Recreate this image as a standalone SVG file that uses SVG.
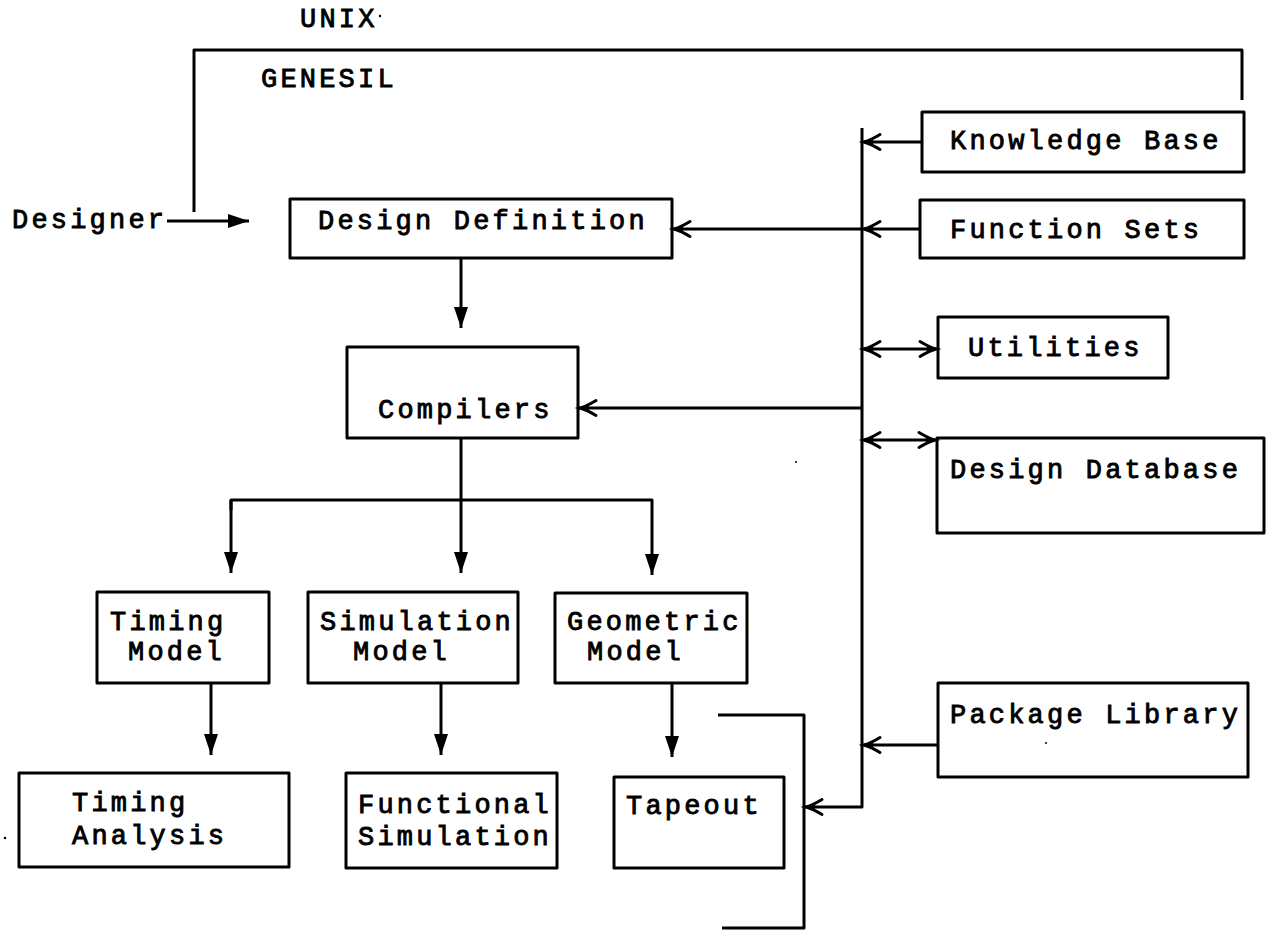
<svg xmlns="http://www.w3.org/2000/svg" width="1267" height="933" viewBox="0 0 1267 933">
<style>
  .bg { fill: #ffffff; }
  .box { fill: none; stroke: #000; stroke-width: 3; stroke-linejoin: round; }
  .ln { fill: none; stroke: #000; stroke-width: 3; stroke-linejoin: round; }
  .t { font-family: "Liberation Mono", "DejaVu Sans Mono", monospace; font-size: 27px; letter-spacing: 3.2px; fill: #000; stroke: #000; stroke-width: 0.9px; }
  .dot { fill: #000; }
</style>
<defs>
  <marker id="tri" markerUnits="userSpaceOnUse" markerWidth="30" markerHeight="30" refX="0" refY="0" orient="auto" overflow="visible" viewBox="-30 -15 30 30">
    <path d="M0,0 L-21,-7 L-21,7 Z" fill="#000"/>
  </marker>
  <marker id="barb" markerUnits="userSpaceOnUse" markerWidth="30" markerHeight="30" refX="0" refY="0" orient="auto-start-reverse" overflow="visible" viewBox="-30 -15 30 30">
    <path d="M-16,-7.5 Q-7,-2 0,0 Q-7,2 -16,7.5" fill="none" stroke="#000" stroke-width="3" stroke-linecap="round"/>
    <path d="M0,0 L-9,-2.5 L-9,2.5 Z" fill="#000"/>
  </marker>
</defs>
<rect class="bg" x="0" y="0" width="1267" height="933"/>

<g id="labels">
  <text class="t" x="300" y="27">UNIX</text>
  <text class="t" x="261" y="87">GENESIL</text>
  <text class="t" x="12" y="228">Designer</text>
</g>

<g id="connectors">
  <polyline class="ln" points="194,212 194,50 1242,50 1242,100"/>
  <line class="ln" x1="167" y1="221" x2="249" y2="221" marker-end="url(#tri)"/>
  <line class="ln" x1="461" y1="258" x2="461" y2="328" marker-end="url(#tri)"/>
  <line class="ln" x1="461" y1="438" x2="461" y2="573" marker-end="url(#tri)"/>
  <polyline class="ln" points="231,510 231,500 652,500 652,575" marker-end="url(#tri)"/>
  <line class="ln" x1="231" y1="500" x2="231" y2="573" marker-end="url(#tri)"/>
  <line class="ln" x1="211" y1="683" x2="211" y2="755" marker-end="url(#tri)"/>
  <line class="ln" x1="441" y1="683" x2="441" y2="755" marker-end="url(#tri)"/>
  <line class="ln" x1="672" y1="683" x2="672" y2="757" marker-end="url(#tri)"/>
  <polyline class="ln" points="862,128 862,807 806,807" marker-end="url(#barb)"/>
  <line class="ln" x1="922" y1="142" x2="864" y2="142" marker-end="url(#barb)"/>
  <line class="ln" x1="920" y1="229" x2="864" y2="229" marker-end="url(#barb)"/>
  <line class="ln" x1="862" y1="229" x2="674" y2="229" marker-end="url(#barb)"/>
  <line class="ln" x1="864" y1="349" x2="936" y2="349" marker-start="url(#barb)" marker-end="url(#barb)"/>
  <line class="ln" x1="862" y1="408" x2="580" y2="408" marker-end="url(#barb)"/>
  <line class="ln" x1="864" y1="440" x2="935" y2="440" marker-start="url(#barb)" marker-end="url(#barb)"/>
  <line class="ln" x1="938" y1="745" x2="864" y2="745" marker-end="url(#barb)"/>
  <polyline class="ln" points="718,715 804,715 804,928 722,928"/>
</g>

<g id="design-definition">
  <rect class="box" x="290" y="199" width="382" height="59"/>
  <text class="t" x="318" y="229">Design Definition</text>
</g>
<g id="knowledge-base">
  <rect class="box" x="922" y="112" width="322" height="60"/>
  <text class="t" x="950" y="149">Knowledge Base</text>
</g>
<g id="function-sets">
  <rect class="box" x="920" y="200" width="324" height="58"/>
  <text class="t" x="950" y="238">Function Sets</text>
</g>
<g id="utilities">
  <rect class="box" x="938" y="317" width="230" height="61"/>
  <text class="t" x="968" y="356">Utilities</text>
</g>
<g id="compilers">
  <rect class="box" x="347" y="347" width="231" height="91"/>
  <text class="t" x="378" y="418">Compilers</text>
</g>
<g id="design-database">
  <rect class="box" x="937" y="438" width="327" height="95"/>
  <text class="t" x="950" y="478">Design Database</text>
</g>
<g id="timing-model">
  <rect class="box" x="97" y="592" width="172" height="91"/>
  <text class="t" x="110" y="630">Timing</text>
  <text class="t" x="128" y="660">Model</text>
</g>
<g id="simulation-model">
  <rect class="box" x="308" y="592" width="210" height="91"/>
  <text class="t" x="320" y="630">Simulation</text>
  <text class="t" x="353" y="660">Model</text>
</g>
<g id="geometric-model">
  <rect class="box" x="555" y="593" width="192" height="90"/>
  <text class="t" x="567" y="630">Geometric</text>
  <text class="t" x="587" y="660">Model</text>
</g>
<g id="package-library">
  <rect class="box" x="938" y="683" width="310" height="94"/>
  <text class="t" x="950" y="723">Package Library</text>
</g>
<g id="timing-analysis">
  <rect class="box" x="19" y="773" width="270" height="94"/>
  <text class="t" x="72" y="811">Timing</text>
  <text class="t" x="72" y="844">Analysis</text>
</g>
<g id="functional-simulation">
  <rect class="box" x="346" y="773" width="211" height="95"/>
  <text class="t" x="358" y="813">Functional</text>
  <text class="t" x="358" y="845">Simulation</text>
</g>
<g id="tapeout">
  <rect class="box" x="614" y="777" width="170" height="91"/>
  <text class="t" x="626" y="814">Tapeout</text>
</g>

<g id="specks">
  <circle class="dot" cx="5" cy="838" r="1.3"/>
  <circle class="dot" cx="380" cy="16" r="1.2"/>
  <circle class="dot" cx="796" cy="462" r="1"/>
  <circle class="dot" cx="1046" cy="743" r="1"/>
</g>
</svg>
